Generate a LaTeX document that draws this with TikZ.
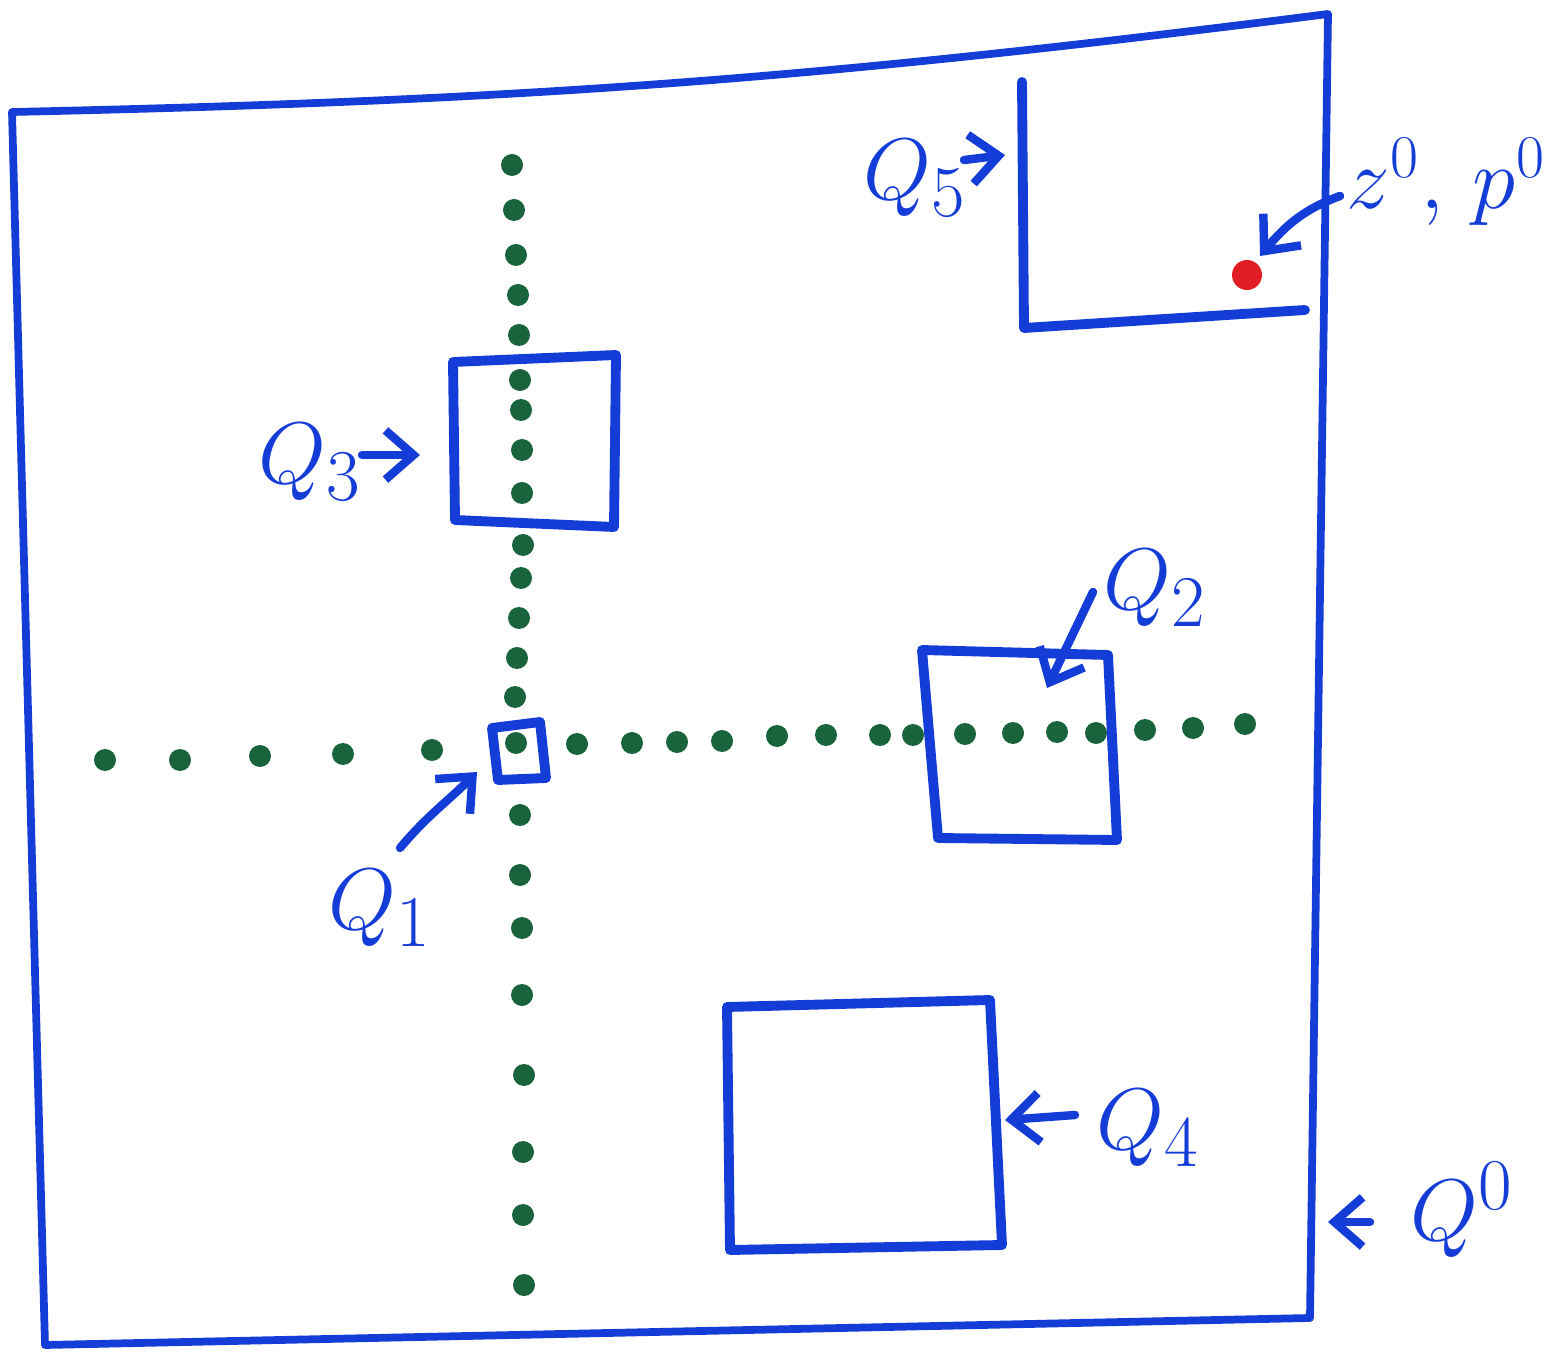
\documentclass[tikz,border=0pt]{standalone}
\usepackage{fontspec}
\usetikzlibrary{arrows.meta}
\definecolor{pen}{RGB}{20,60,215}
\definecolor{leaf}{RGB}{25,100,60}
\definecolor{dotred}{RGB}{225,30,35}
\tikzset{
  outline/.style={pen, line width=2.2pt, line join=round, line cap=round},
  box/.style={pen, line width=2.8pt, line join=round, line cap=round},
  pointer/.style={pen, line width=2.4pt, line cap=round, -{Straight Barb[length=8pt,width=14pt,line width=2.4pt]}},
  lbl/.style={pen, font=\fontsize{30}{32}\selectfont, inner sep=0pt}
}
\begin{document}
\begin{tikzpicture}[x=0.01cm, y=-0.01cm]
\useasboundingbox (0,0) rectangle (1548,1352);

% outer region Q^0
\draw[outline] (12,112) coordinate (o1) to[bend right=3] (1328,14) coordinate (o2) -- (1310,1318) coordinate (o3) -- (45,1345) coordinate (o4) -- cycle;

% dotted cross lines
\foreach \x/\y in {512/165,514/210,516/255,518/295,519/335,520/380,521/410,522/450,522/493,523/545,521/578,519/618,517/658,515/697,516/743,520/815,520/875,522/928,522/995,524/1075,523/1152,523/1215,524/1285}
  \fill[leaf] (\x,\y) circle (11);
\foreach \x/\y in {105/760,180/760,260/756,343/754,432/750,577/744,632/743,677/742,722/741,777/736,826/735,880/735,913/735,965/734,1013/733,1057/732,1096/733,1145/730,1193/728,1245/724}
  \fill[leaf] (\x,\y) circle (11);

% sub-boxes
\draw[box] (453,362) -- (616,355) -- (614,527) -- (455,520) -- cycle;
\draw[box] (922,650) -- (1108,655) -- (1117,840) -- (938,838) -- cycle;
\draw[box] (727,1007) -- (990,1000) -- (1002,1245) -- (730,1250) -- cycle;
\draw[box] (492,728) -- (540,722) -- (546,778) -- (498,780) -- cycle;
\draw[box] (1022,82) -- (1024,328) -- (1305,310);

% marked point
\fill[dotred] (1247,275) circle (15);

% labels
\node[lbl] (lq5) at (915,178) {$Q_5$};
\node[lbl, anchor=west, font=\fontsize{25}{27}\selectfont] (lzp) at (1346,182) {$z^0,\,p^0$};
\node[lbl] (lq3) at (310,462) {$Q_3$};
\node[lbl] (lq2) at (1155,588) {$Q_2$};
\node[lbl] (lq1) at (380,908) {$Q_1$};
\node[lbl] (lq4) at (1148,1128) {$Q_4$};
\node[lbl] (lq0) at (1462,1210) {$Q^0$};

% arrow end points
\coordinate (t5) at (1005,155);
\coordinate (tzp) at (1260,256);
\coordinate (t3) at (420,455);
\coordinate (t2) at (1047,688);
\coordinate (t1) at (477,772);
\coordinate (t4) at (1005,1120);
\coordinate (t0) at (1328,1222);

\draw[pointer] (964,160) coordinate (s5) -- (t5);
\draw[pointer] (1340,196) coordinate (szp) to[out=200,in=50] (tzp);
\draw[pointer] (362,455) coordinate (s3) -- (t3);
\draw[pointer] (1093,592) coordinate (s2) -- (t2);
\draw[pointer] (400,848) coordinate (s1) to[out=50,in=225] (t1);
\draw[pointer] (1075,1115) coordinate (s4) -- (t4);
\draw[pointer] (1370,1222) coordinate (s0) -- (t0);
\end{tikzpicture}
\end{document}
